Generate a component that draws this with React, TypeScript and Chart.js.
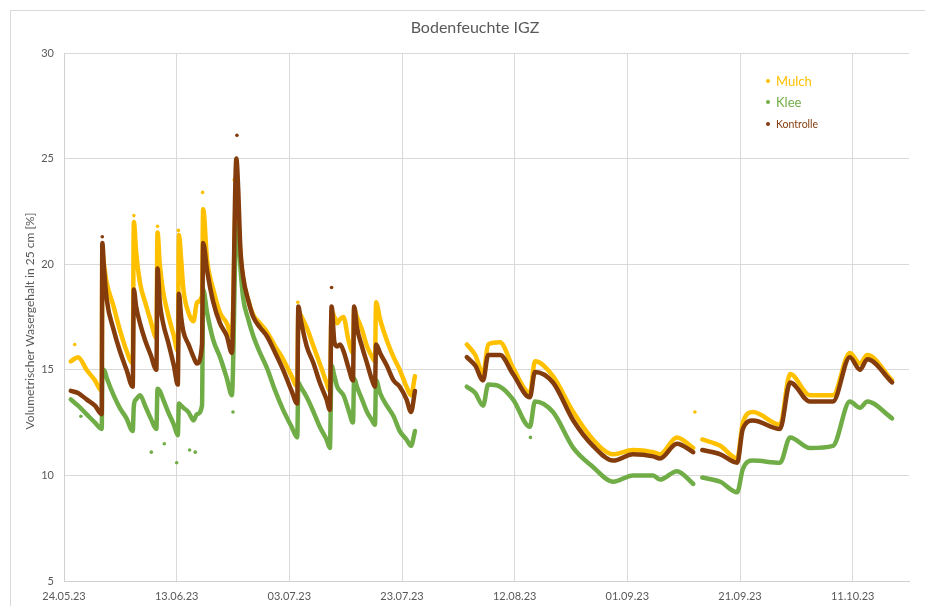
import React, { useEffect, useRef } from "react";
import { Chart, registerables } from "chart.js";

Chart.register(...registerables);

// Days since 24.05.23
const days = [
  1.2, 2.5, 4.0, 5.5, 6.7,
  6.8, 7.1, 7.6, 8.8, 9.9, 11.1, 12.2,
  12.4, 12.8, 13.5, 14.4, 15.4, 16.4,
  16.6, 17.0, 17.6, 18.5, 19.5, 20.2,
  20.4, 20.8, 21.2, 22.1, 23.0, 23.6, 24.5,
  24.7, 25.4, 26.5, 27.7, 28.9, 29.8,
  30.6, 30.9, 31.3, 31.8, 32.7, 33.6, 34.8, 36.0, 37.5, 38.9, 40.4, 41.4,
  41.6, 42.0, 43.1, 44.3, 45.4, 46.6, 47.2,
  47.5, 48.0, 48.5, 49.0, 49.6, 50.5, 51.3,
  51.5, 52.0, 52.9, 53.8, 54.7, 55.2,
  55.4, 56.1, 57.3, 58.5, 59.6, 60.8, 61.6, 62.3,
  67.0,
  71.5, 73.0, 74.4, 75.3, 77.4, 79.7, 82.7, 83.6, 86.8, 90.4, 93.9, 97.5,
  101.0, 104.6, 105.8, 108.8, 111.7,
  112.4,
  113.3, 116.5, 119.5, 120.5, 122.3, 127.1, 128.9, 132.4, 136.5, 139.5,
  141.3, 142.6, 147.0,
];

const mulch = [
  15.4, 15.6, 15.0, 14.5, 14.0,
  20.6, 20.0, 19.1, 18.0, 16.9, 15.9, 15.3,
  22.0, 20.6, 19.1, 18.2, 17.3, 16.5,
  21.5, 20.0, 18.7, 17.6, 16.6, 15.9,
  21.4, 20.2, 18.8, 17.7, 17.3, 18.2, 18.5,
  22.6, 20.2, 18.8, 17.7, 17.2, 16.6,
  23.6, 22.5, 20.5, 19.3, 18.3, 17.6, 17.2, 16.8, 16.1, 15.5, 14.7, 14.2,
  17.8, 17.6, 17.0, 16.1, 15.3, 14.4, 14.0,
  17.8, 17.5, 17.2, 17.4, 17.5, 16.4, 15.8,
  17.9, 17.5, 16.9, 16.1, 15.6, 15.4,
  18.2, 17.4, 16.4, 15.6, 15.0, 14.2, 13.8, 14.7,
  null,
  16.2, 15.7, 14.8, 16.2, 16.3, 15.1, 13.9, 15.4, 14.7, 13.0, 11.7, 11.0,
  11.2, 11.1, 11.0, 11.8, 11.3,
  null,
  11.7, 11.4, 10.8, 12.5, 13.0, 12.4, 14.8, 13.8, 13.8, 15.8,
  15.3, 15.7, 14.5,
];

const klee = [
  13.6, 13.3, 12.9, 12.5, 12.2,
  15.0, 15.0, 14.6, 13.8, 13.2, 12.7, 12.1,
  13.3, 13.6, 13.8, 13.3, 12.7, 12.2,
  14.1, 14.0, 13.6, 13.0, 12.4, 11.9,
  13.4, 13.3, 13.2, 13.0, 12.6, 12.9, 13.3,
  18.8, 17.7, 16.4, 15.6, 14.6, 13.8,
  21.8, 21.6, 19.9, 18.4, 17.4, 16.6, 15.8, 15.1, 14.0, 13.1, 12.3, 11.8,
  14.4, 14.2, 13.7, 13.0, 12.3, 11.7, 11.3,
  15.2, 14.7, 14.2, 14.0, 13.8, 13.1, 12.5,
  14.6, 14.2, 13.6, 13.0, 12.6, 12.4,
  14.5, 13.9, 13.3, 12.8, 12.1, 11.7, 11.4, 12.1,
  null,
  14.2, 13.9, 13.3, 14.3, 14.2, 13.6, 12.3, 13.5, 13.0, 11.3, 10.4, 9.7,
  10.0, 10.0, 9.8, 10.2, 9.6,
  null,
  9.9, 9.7, 9.2, 10.3, 10.7, 10.6, 11.8, 11.3, 11.4, 13.5,
  13.2, 13.5, 12.7,
];

const kontrolle = [
  14.0, 13.9, 13.6, 13.3, 12.9,
  21.0, 19.8, 18.3, 16.9, 15.9, 15.0, 14.2,
  18.8, 18.0, 17.2, 16.4, 15.7, 15.0,
  19.8, 18.2, 17.2, 16.3, 15.2, 14.3,
  18.6, 17.5, 16.8, 16.2, 15.6, 15.3, 16.2,
  21.0, 19.7, 18.2, 17.2, 16.6, 15.8,
  25.0, 23.7, 20.8, 19.4, 18.3, 17.5, 17.0, 16.6, 15.8, 15.0, 14.0, 13.4,
  18.0, 17.4, 16.1, 15.3, 14.4, 13.6, 13.1,
  18.0, 16.3, 16.1, 16.2, 15.9, 15.1, 14.5,
  18.0, 17.0, 16.1, 15.3, 14.5, 14.2,
  16.2, 15.8, 15.2, 14.5, 14.2, 13.6, 13.0, 14.0,
  null,
  15.6, 15.2, 14.5, 15.7, 15.7, 14.8, 13.7, 14.9, 14.4, 12.6, 11.4, 10.7,
  11.0, 10.9, 10.8, 11.5, 11.1,
  null,
  11.2, 11.0, 10.6, 12.2, 12.6, 12.2, 14.4, 13.5, 13.5, 15.6,
  15.0, 15.5, 14.4,
];

// Isolated outlier readings
const mulchOutDays = [1.9, 12.4, 16.6, 20.3, 24.6, 30.2, 112.0, 41.5];
const mulchOutVals = [16.2, 22.3, 21.8, 21.6, 23.4, 24.0, 13.0, 18.2];
const kleeOutDays = [15.5, 17.8, 20.0, 22.3, 23.3, 30.0, 82.8, 3.0];
const kleeOutVals = [11.1, 11.5, 10.6, 11.2, 11.1, 13.0, 11.8, 12.8];
const kontrolleOutDays = [30.7, 47.5, 6.8, 30.5];
const kontrolleOutVals = [26.1, 18.9, 21.3, 24.2];

const xTickDays = [0, 20, 40, 60, 80, 100, 120, 140];
const yTicks = [5, 10, 15, 20, 25, 30];

const seriesNames = ["Mulch", "Klee", "Kontrolle"];
const seriesColors = ["#FFC000", "#70AD47", "#843C0C"];

const TEXT = "#595959";
const FONT = "Lato, 'Open Sans', sans-serif";

function dayLabel(d: number): string {
  const dt = new Date(2023, 4, 24 + d);
  const dd = String(dt.getDate()).padStart(2, "0");
  const mm = String(dt.getMonth() + 1).padStart(2, "0");
  const yy = String(dt.getFullYear()).slice(2);
  return `${dd}.${mm}.${yy}`;
}

function pts(xs: number[], ys: (number | null)[]) {
  return xs.map((x, i) => ({ x, y: ys[i] }));
}

const overlayPlugin = {
  id: "overlay",
  afterDraw(chart: any) {
    const ctx = chart.ctx;
    const ca = chart.chartArea;
    ctx.save();
    // title
    ctx.fillStyle = TEXT;
    ctx.font = `16px ${FONT}`;
    ctx.textAlign = "center";
    ctx.textBaseline = "middle";
    ctx.fillText("Bodenfeuchte IGZ", 467, 20);
    // y-axis title
    ctx.save();
    ctx.translate(22, (ca.top + ca.bottom) / 2 + 4);
    ctx.rotate(-Math.PI / 2);
    ctx.font = `12px ${FONT}`;
    ctx.fillText("Volumetrischer Wasergehalt in 25 cm [%]", 0, 0);
    ctx.restore();
    // legend
    const lx = 760;
    const rows = [73, 94, 116];
    const sizes = [13, 13, 10.5];
    seriesNames.forEach((name, i) => {
      ctx.fillStyle = seriesColors[i];
      ctx.beginPath();
      ctx.arc(lx, rows[i], 2, 0, Math.PI * 2);
      ctx.fill();
      ctx.font = `${sizes[i]}px ${FONT}`;
      ctx.textAlign = "left";
      ctx.fillText(name, lx + 8, rows[i] + 0.5);
    });
    ctx.restore();
  },
};

export default function App() {
  const ref = useRef<HTMLCanvasElement | null>(null);

  useEffect(() => {
    if (!ref.current) return;
    const lineDs = (label: string, data: (number | null)[], color: string, order: number) => ({
      label,
      data: pts(days, data),
      showLine: true,
      borderColor: color,
      backgroundColor: color,
      borderWidth: 4.5,
      pointRadius: 0,
      spanGaps: false,
      cubicInterpolationMode: "monotone" as const,
      borderJoinStyle: "round" as const,
      borderCapStyle: "round" as const,
      order,
    });
    const dotDs = (label: string, xs: number[], ys: number[], color: string, order: number) => ({
      label,
      data: pts(xs, ys),
      showLine: false,
      borderColor: color,
      backgroundColor: color,
      pointRadius: 1.8,
      pointBorderWidth: 0,
      order,
    });
    const chart = new Chart(ref.current, {
      type: "scatter",
      data: {
        datasets: [
          lineDs(seriesNames[0], mulch, seriesColors[0], 3),
          lineDs(seriesNames[1], klee, seriesColors[1], 2),
          lineDs(seriesNames[2], kontrolle, seriesColors[2], 1),
          dotDs("Mulch outliers", mulchOutDays, mulchOutVals, seriesColors[0], 3),
          dotDs("Klee outliers", kleeOutDays, kleeOutVals, seriesColors[1], 2),
          dotDs("Kontrolle outliers", kontrolleOutDays, kontrolleOutVals, seriesColors[2], 1),
        ],
      },
      options: {
        animation: false,
        responsive: false,
        devicePixelRatio: 1,
        layout: { padding: { top: 45, right: 16, left: 0, bottom: 0 } },
        plugins: {
          legend: { display: false },
          tooltip: { enabled: false },
          title: { display: false },
        },
        scales: {
          x: {
            type: "linear",
            min: 0,
            max: 150,
            afterBuildTicks: (scale: any) => {
              scale.ticks = xTickDays.map((v) => ({ value: v }));
            },
            afterFit: (scale: any) => {
              scale.height = 25;
            },
            ticks: {
              callback: (v: any) => dayLabel(Number(v)),
              color: TEXT,
              font: { family: FONT, size: 11 },
              padding: 9,
              maxRotation: 0,
              autoSkip: false,
            },
            grid: { color: "#d9d9d9", drawTicks: false, lineWidth: 1 },
            border: { color: "#d0d0d0" },
          },
          y: {
            type: "linear",
            min: 5,
            max: 30,
            afterBuildTicks: (scale: any) => {
              scale.ticks = yTicks.map((v) => ({ value: v }));
            },
            afterFit: (scale: any) => {
              scale.width = 56;
            },
            ticks: {
              color: TEXT,
              font: { family: FONT, size: 11 },
              padding: 10,
            },
            grid: { color: "#d9d9d9", drawTicks: false, lineWidth: 1 },
            border: { color: "#d0d0d0" },
          },
        },
      },
      plugins: [overlayPlugin],
    } as any);
    return () => chart.destroy();
  }, []);

  return (
    <div style={{ position: "relative", width: 917, height: 598 }}>
      <canvas ref={ref} width={917} height={598} style={{ display: "block" }} />
      <div
        style={{
          position: "absolute",
          left: 2,
          top: 2,
          width: 916,
          height: 620,
          border: "1px solid #d9d9d9",
          pointerEvents: "none",
        }}
      />
    </div>
  );
}
